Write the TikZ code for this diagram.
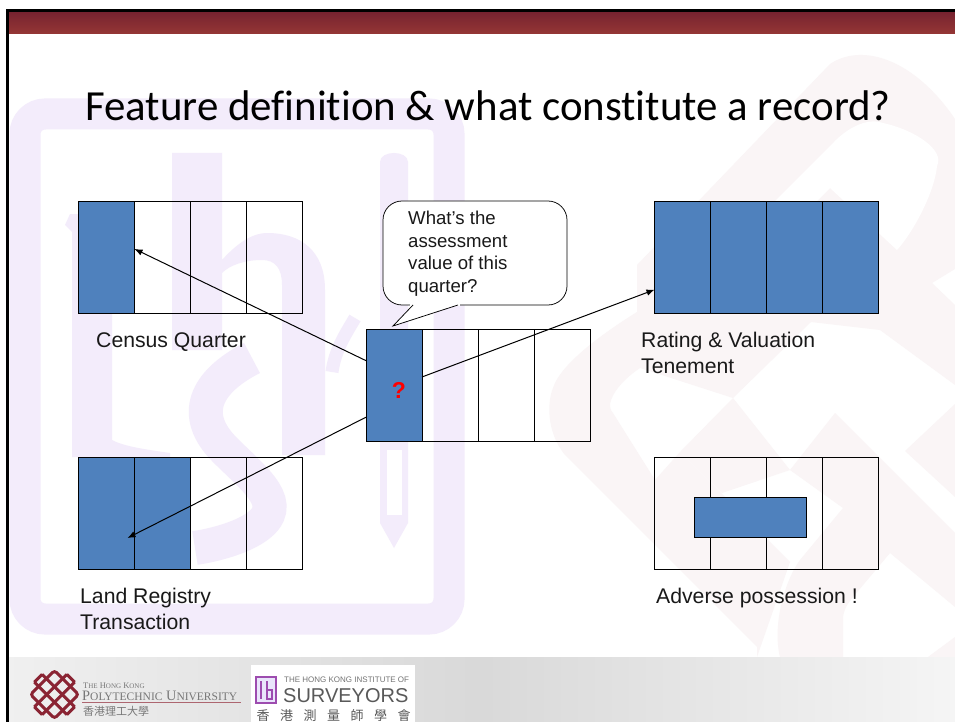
\documentclass[tikz,border=0pt]{standalone}
\usetikzlibrary{arrows.meta}
\usepackage{fontspec}
\setmainfont{Liberation Sans}
\newfontfamily\titlefont[Ligatures=NoCommon]{Carlito}
\newfontfamily\logoserif{Liberation Serif}
\newfontfamily\cjkfont{Noto Sans CJK TC}
\definecolor{cellblue}{HTML}{4F81BD}
\definecolor{markpurple}{HTML}{F3ECFB}
\definecolor{markpink}{HTML}{FAF5F6}
\definecolor{barred}{HTML}{953735}
\definecolor{bardark}{HTML}{772230}
\definecolor{knotred}{HTML}{8A2433}
\definecolor{logogray}{HTML}{777777}
\begin{document}
\begin{tikzpicture}[x=1pt,y=-1pt,
    cellbox/.style={draw=black,line width=1pt,minimum width=56pt,minimum height=112pt,inner sep=0pt,outer sep=0pt},
    caption/.style={anchor=north west,inner sep=0pt,align=left,font=\fontsize{21.2}{26}\selectfont,text=black!90},
    link/.style={-{Latex[length=8pt,width=6.5pt]},line width=1pt}]
  \useasboundingbox (0,0) rectangle (955,722);
  \fill[white] (0,0) rectangle (955,722);
  % faint marks behind the slide
  \draw[markpurple,line width=31pt,rounded corners=20pt] (25,114) rectangle (449,619);
  \fill[markpurple] (72,232) -- (65,225) -- (70,214) -- (112,214) -- (112,440) .. controls (125,447) and (150,450) .. (170,453) -- (170,457) -- (72,457) -- cycle;
  \fill[markpurple] (172,153) -- (222,153) -- (222,260) .. controls (240,240) and (255,233) .. (267,233) .. controls (300,233) and (325,250) .. (325,290) -- (325,455) -- (282,455) -- (282,285) .. controls (282,268) and (275,260) .. (262,260) .. controls (245,260) and (230,265) .. (222,273) -- (222,350) -- (172,350) -- cycle;
  \draw[markpurple,line width=34pt] (252,358) .. controls (205,382) and (190,415) .. (225,450) .. controls (255,480) and (290,505) .. (255,528) .. controls (240,538) and (215,545) .. (195,548);
  \draw[markpurple,line width=13pt] (355,318) .. controls (345,335) and (335,350) .. (332,372);
  \fill[markpurple] (380,162) .. controls (380,150) and (408,150) .. (408,162) -- (408,523) -- (394,548) -- (380,523) -- cycle;
  \fill[white] (387,450) rectangle (402,515);
  \fill[markpink] (637,265) -- (830,64) .. controls (863,42) and (915,60) .. (955,119) -- (955,269) -- (932,283) -- (955,305) -- (955,385) -- (880,330) -- (811,322) -- (733,398) -- (640,368) .. controls (625,378) and (612,392) .. (610,404) .. controls (610,410) and (612,412) .. (613,413) -- (655,480) -- (680,452) -- (790,562) -- (757,657) -- (757,647) -- (565,455) .. controls (545,430) and (548,400) .. (553,388) .. controls (560,365) and (600,335) .. (637,312) -- cycle;
  \fill[white] (833,143) .. controls (850,125) and (870,118) .. (883,123) .. controls (915,130) and (945,150) .. (937,166) .. controls (935,190) and (915,230) .. (897,250) -- (830,188) -- (705,313) -- (663,313) -- cycle;
  \fill[markpink] (733,398) -- (790,470) -- (722,493) -- (680,452) -- cycle;
  \fill[markpink] (835,413) -- (955,533) -- (955,607) -- (890,553) -- (853,597) .. controls (845,607) and (843,612) .. (843,620) -- (843,657) -- (780,657) .. controls (772,625) and (785,580) .. (800,560) -- (843,508) -- (790,470) -- cycle;
  \fill[markpink] (955,404) -- (905,451) -- (955,497) -- cycle;
  \fill[markpink] (928,657) -- (955,637) -- (955,657) -- cycle;
  % slide bands
  \shade[top color=bardark,bottom color=barred] (9,12) rectangle (955,34);
  \shade[left color=black!6,right color=black!15] (9,657) rectangle (480,722);
  \shade[left color=black!15,right color=black!4] (480,657) rectangle (955,722);
  \draw[black,line width=3pt] (7.5,722) -- (7.5,10.5) -- (955,10.5);
  \node[anchor=base west,inner sep=0pt,font=\titlefont\fontsize{42.9}{44}\selectfont] (title) at (85,121) {Feature definition \& what constitute a record?};
  % four cells a record
  \foreach \name/\ox/\oy/\nfill in {census/78.5/201.5/1,land/78.5/457.5/2,rec/366/329/1,rating/654.5/201.5/4,adverse/654.5/457.5/0}
    \foreach \k in {1,2,3,4} {
      \ifnum\k>\nfill\relax\def\cellfill{none}\else\def\cellfill{cellblue}\fi
      \node[cellbox,fill=\cellfill] (\name\k) at (\ox+56*\k-28,\oy+56) {};
    }
  \node[cellbox,fill=cellblue,minimum width=112pt,minimum height=40pt] (squatter) at (750.5,517.5) {};
  \node[text=red,font=\bfseries\fontsize{23}{23}\selectfont,inner sep=0pt] (unknown) at (399,390.5) {?};
  \coordinate (landtip) at (127.5,538);
  \draw[link] (rec1.139) -- (census1.17);
  \draw[link] (rec1.229) -- (landtip);
  \draw[link] (rec1.16) -- (rating1.229);
  \draw[fill=white,line width=0.75pt,rounded corners=19pt] (413,305) -- (383,305) -- (383,201) -- (567,201) -- (567,305) -- (458,305);
  \fill[white] (410,300) rectangle (460,305.5);
  \draw[fill=white,line width=0.75pt] (413,305) -- (393,326) -- (458,305);
  \node[anchor=north west,inner sep=0pt,align=left,font=\fontsize{18.6}{22.6}\selectfont,text=black!90] (question) at (408,211) {What's the\\assessment\\value of this\\quarter?};
  \node[caption] (censuslabel) at (96,332) {Census Quarter};
  \node[caption] (ratinglabel) at (641,332) {Rating \& Valuation\\Tenement};
  \node[caption] (landlabel) at (80,588) {Land Registry\\Transaction};
  \node[caption] (adverselabel) at (656,588) {Adverse possession !};
  % logos
  \begin{scope}[shift={(54.5,694.5)},rotate=45,knotred,line width=3pt,rounded corners=3pt]
    \draw (-17,-17) rectangle (17,17);
    \foreach \d in {-5.5,5.5} {
      \draw (\d,-23) -- (\d,23);
      \draw (-23,\d) -- (23,\d);
    }
    \draw (-5.5,-23) -- (5.5,-23);
    \draw (-5.5,23) -- (5.5,23);
    \draw (-23,-5.5) -- (-23,5.5);
    \draw (23,-5.5) -- (23,5.5);
  \end{scope}
  \node[anchor=base west,inner sep=0pt,text=logogray,font=\logoserif\fontsize{8.5}{8}\selectfont] (polyhk) at (83,688.5) {T{\fontsize{7}{6}\selectfont HE} H{\fontsize{7}{6}\selectfont ONG} K{\fontsize{7}{6}\selectfont ONG}};
  \node[anchor=base west,inner sep=0pt,text=logogray,font=\logoserif\fontsize{14.4}{14}\selectfont] (polyname) at (82,700) {P{\fontsize{11.5}{14}\selectfont OLYTECHNIC} U{\fontsize{11.5}{14}\selectfont NIVERSITY}};
  \draw[knotred!70,line width=0.8pt] (82,702) -- (241,702);
  \node[anchor=base west,inner sep=0pt,text=logogray,font=\cjkfont\fontsize{11}{11}\selectfont] (polycjk) at (83,715) {香港理工大學};
  \fill[white] (251,665) rectangle (415,722);
  \draw[purple!60!blue!70,line width=1.5pt,fill=purple!20!blue!10] (256,677) rectangle (276,703);
  \draw[purple!60!blue!70,line width=1.3pt] (261,681) -- (261,699) (267,681) -- (267,699) -- (272,699) -- (272,690) -- (267,690);
  \node[anchor=base west,inner sep=0pt,text=black!55,font=\fontsize{8}{8}\selectfont] (hkis) at (284,682) {THE HONG KONG INSTITUTE OF};
  \node[anchor=base west,inner sep=0pt,text=black!65,font=\fontsize{20}{22}\selectfont] (surveyors) at (283,702) {SURVEYORS};
  \foreach \ch [count=\i] in {香,港,測,量,師,學,會}
    \node[inner sep=0pt,text=black!65,font=\cjkfont\fontsize{13}{13}\selectfont] (hkischar\i) at (239.5+23.5*\i,715.5) {\ch};
\end{tikzpicture}
\end{document}
